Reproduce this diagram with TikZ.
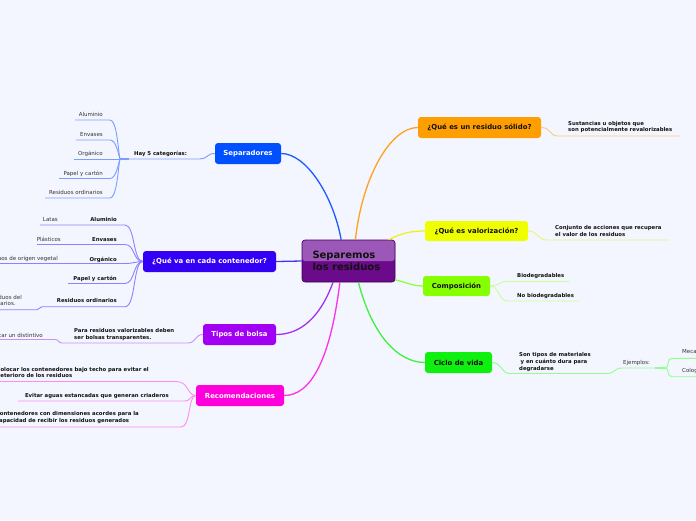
\documentclass[tikz,border=0pt]{standalone}
\usepackage{fontspec}
\setmainfont{DejaVu Sans}
\definecolor{bg}{HTML}{F3F6FE}
\definecolor{ink}{HTML}{111111}
\definecolor{ltxt}{HTML}{333333}
\definecolor{csep}{HTML}{0050FF}
\definecolor{cque}{HTML}{3300F5}
\definecolor{ctip}{HTML}{A200F2}
\definecolor{crec}{HTML}{FF00DC}
\definecolor{cres}{HTML}{FF9E00}
\definecolor{cval}{HTML}{F0FF00}
\definecolor{ccom}{HTML}{86FF00}
\definecolor{ccic}{HTML}{10F010}
\definecolor{ctop}{HTML}{9C58B8}
\definecolor{cbot}{HTML}{6C0A8C}
\definecolor{cbrd}{HTML}{3E0055}
\definecolor{lsep}{HTML}{7C9CFF}
\definecolor{lque}{HTML}{8F80FF}
\definecolor{ltip}{HTML}{C990F5}
\definecolor{lrec}{HTML}{FF8CF0}
\definecolor{lres}{HTML}{FFC880}
\definecolor{lval}{HTML}{EEF080}
\definecolor{lcom}{HTML}{C8FF98}
\definecolor{lcic}{HTML}{90FF90}
\definecolor{msep}{HTML}{1E5AFF}
\definecolor{mque}{HTML}{4A30F5}
\definecolor{mtip}{HTML}{A530F0}
\definecolor{mrec}{HTML}{FF30E5}
\definecolor{mres}{HTML}{FFA020}
\definecolor{mval}{HTML}{F0F020}
\definecolor{mcom}{HTML}{90FF40}
\definecolor{mcic}{HTML}{40F040}
\begin{document}
\begin{tikzpicture}[x=1pt,y=-1pt,
  lbl/.style={font=\fontsize{5.5}{6.8}\selectfont, text=ltxt, inner sep=0pt},
  blbl/.style={font=\bfseries\fontsize{5.35}{6.8}\selectfont, text=ink, inner sep=0pt},
  topic/.style={rounded corners=3pt, minimum height=21pt, inner sep=0pt, font=\bfseries\fontsize{6.9}{8}\selectfont, text=white},
  central/.style={draw=cbrd, line width=0.6pt, rounded corners=3pt, fill=cbot,
    minimum height=42pt, text width=72pt, inner xsep=10.5pt, inner ysep=0pt, align=left,
    font=\bfseries\fontsize{10}{12}\selectfont, text=ink,
    path picture={\fill[ctop] (path picture bounding box.north west) rectangle (path picture bounding box.east);}},
  branch/.style={line width=0.9pt},
  mainline/.style={line width=1.3pt}
]
\useasboundingbox (0,0) rectangle (696,520);
\fill[bg] (0,0) rectangle (696,520);
\clip (0,0) rectangle (696,520);

% ---------- nodes ----------
\node[central] (c) at (348.5,261) {Separemos\\los residuos};

\node[topic, fill=csep, minimum width=66pt] (sep) at (248,153.5) {Separadores};
\node[topic, fill=cque, minimum width=133pt] (que) at (209.5,261.5) {¿Qué va en cada contenedor?};
\node[topic, fill=ctip, minimum width=73pt] (tip) at (239.5,334.5) {Tipos de bolsa};
\node[topic, fill=crec, minimum width=88pt] (rec) at (240,395.5) {Recomendaciones};
\node[topic, fill=cres, text=ink, minimum width=123pt] (res) at (479.5,127.5) {¿Qué es un residuo sólido?};
\node[topic, fill=cval, text=ink, minimum width=103pt, minimum height=20pt] (val) at (476.5,231) {¿Qué es valorización?};
\node[topic, fill=ccom, text=ink, minimum width=67pt, minimum height=20pt] (com) at (456.5,286) {Composición};
\node[topic, fill=ccic, text=ink, minimum width=67pt] (cic) at (458.5,362.5) {Ciclo de vida};

% Separadores labels
\node[blbl, anchor=base west] (hay) at (134,155) {Hay 5 categorías:};
\node[lbl, anchor=base east] (s1) at (103,116) {Aluminio};
\node[lbl, anchor=base east] (s2) at (103,136) {Envases};
\node[lbl, anchor=base east] (s3) at (103,155) {Orgánico};
\node[lbl, anchor=base east] (s4) at (103,175) {Papel y cartón};
\node[lbl, anchor=base east] (s5) at (103,194.5) {Residuos ordinarios};
\coordinate (hayL) at (120,159); \coordinate (hayR) at (200,159);
\coordinate (s1L) at (75,120);  \coordinate (s1R) at (110,120);
\coordinate (s2L) at (76,140);  \coordinate (s2R) at (110,140);
\coordinate (s3L) at (74,159);
\coordinate (s4L) at (59,178.5); \coordinate (s4R) at (110,178.5);
\coordinate (s5L) at (45,198);  \coordinate (s5R) at (110,198);

% Que va labels
\node[blbl, anchor=base east] (q1) at (117,221.5) {Aluminio};
\node[blbl, anchor=base east] (q2) at (117,241) {Envases};
\node[blbl, anchor=base east] (q3) at (117,261) {Orgánico};
\node[blbl, anchor=base east] (q4) at (117,280) {Papel y cartón};
\node[blbl, anchor=base east] (q5) at (117,302.5) {Residuos ordinarios};
\node[lbl, anchor=base east] (q1a) at (58,221) {Latas};
\node[lbl, anchor=base east] (q2a) at (61,241) {Plásticos};
\node[lbl, anchor=base east] (q3a) at (58,260) {Residuos de origen vegetal};
\node[lbl, align=left, anchor=east] (q5a) at (22,300.5) {Residuos del\\sanitarios.};
\coordinate (q1L) at (40,225);  \coordinate (q1R) at (125,225);
\coordinate (q2L) at (37,244.5); \coordinate (q2R) at (125,244.5);
\coordinate (q3L) at (0,263.5); \coordinate (q3R) at (125,263.5);
\coordinate (q4L) at (68,283.5); \coordinate (q4R) at (125,283.5);
\coordinate (q5L) at (42,306.7); \coordinate (q5R) at (125,306.7);
\coordinate (q5aL) at (0,309.7); \coordinate (q5aR) at (37,309.7);

% Tipos de bolsa labels
\node[blbl, align=left, anchor=west] (t1) at (74,334.5) {Para residuos valorizables deben\\ser bolsas transparentes.};
\node[lbl, anchor=base east] (t1a) at (43,337) {Colocar un distintivo};
\coordinate (t1L) at (62,343); \coordinate (t1R) at (188,343);
\coordinate (t1aL) at (0,339.5); \coordinate (t1aR) at (55,339.5);

% Recomendaciones labels
\node[blbl, align=left, anchor=east] (r1) at (149,372.5) {Colocar los contenedores bajo techo para evitar el\\deterioro de los residuos};
\node[blbl, anchor=base east] (r2) at (169,397) {Evitar aguas estancadas que generan criaderos};
\node[blbl, align=left, anchor=east] (r3) at (139,417.5) {Contenedores con dimensiones acordes para la\\capacidad de recibir los residuos generados};
\coordinate (r1L) at (0,381.5); \coordinate (r1R) at (176,381.5);
\coordinate (r2L) at (18,401);  \coordinate (r2R) at (184,401);
\coordinate (r3L) at (0,427);   \coordinate (r3R) at (181,427);

% right side labels
\node[blbl, align=left, anchor=west] (o1) at (568,127) {Sustancias u objetos que\\son potencialmente revalorizables};
\coordinate (o1L) at (558,136); \coordinate (o1R) at (679,136);
\node[blbl, align=left, anchor=west] (y1) at (555,231) {Conjunto de acciones que recupera\\el valor de los residuos};
\coordinate (y1L) at (547,240); \coordinate (y1R) at (669,240);
\node[blbl, anchor=base west] (g1) at (517,277.7) {Biodegradables};
\node[blbl, anchor=base west] (g2) at (517,297) {No biodegradables};
\coordinate (g1L) at (507,281.5); \coordinate (g1R) at (569,281.5);
\coordinate (g2L) at (507,301);   \coordinate (g2R) at (579,301);
\node[blbl, align=left, anchor=west] (k1) at (519,362) {Son tipos de materiales\\\hspace{1.5pt}y en cuánto dura para\\degradarse};
\coordinate (k1L) at (510,373.5); \coordinate (k1R) at (607,373.5);
\node[lbl, anchor=base west] (e1) at (623,364) {Ejemplos:};
\coordinate (e1L) at (622,368); \coordinate (e1R) at (665,368);
\node[lbl, anchor=base west] (m1) at (682,353.5) {Mecanismos};
\node[lbl, anchor=base west] (m2) at (682,372.7) {Cologicos};
\coordinate (m1L) at (672,358.3); \coordinate (m1R) at (700,358.3);
\coordinate (m2L) at (672,376.7); \coordinate (m2R) at (700,376.7);

% ---------- main connectors ----------
\draw[mainline, msep] (c.109.7) .. controls (333,195) and (306,153.5) .. (sep.east);
\draw[mainline, mres] (c.72.8) .. controls (362,178) and (390,127.5) .. (res.west);
\draw[mainline, mval] (c.28.6) .. controls (402,233) and (411,231) .. (val.west);
\draw[mainline, mcom] (c.-22.2) .. controls (406,282) and (412,286) .. (com.west);
\draw[mainline, mcic] (c.-65.7) .. controls (372,335) and (398,362.5) .. (cic.west);
\draw[mainline, mrec] (c.-112) .. controls (330,362) and (310,395.5) .. (rec.east);
\draw[mainline, mtip] (c.-126.4) .. controls (320,318) and (300,334.5) .. (tip.east);
\draw[mainline, mque] (c.west) -- (que.east);

% ---------- Separadores branches ----------
\draw[branch, lsep] (sep.west) .. controls (207,153.5) and (207,159) .. (hayR) -- (hayL);
\draw[branch, lsep, line width=1.8pt] (hayL) -- (129,159);
\draw[branch, lsep] (s1L) -- (s1R) .. controls (117,120) and (118,150) .. (hayL);
\draw[branch, lsep] (s2L) -- (s2R) .. controls (116,140) and (118,153) .. (hayL);
\draw[branch, lsep] (s3L) -- (hayL);
\draw[branch, lsep] (s4L) -- (s4R) .. controls (116,178.5) and (118,165) .. (hayL);
\draw[branch, lsep] (s5L) -- (s5R) .. controls (117,198) and (118,168) .. (hayL);

% ---------- Que va branches ----------
\draw[branch, lque] (q1L) -- (q1R) .. controls (135,225) and (133,261.5) .. (que.west);
\draw[branch, lque] (q2L) -- (q2R) .. controls (135,244.5) and (133,261.5) .. (que.west);
\draw[branch, lque] (q3L) -- (q3R) .. controls (133,263.5) and (136,261.5) .. (que.west);
\draw[branch, lque] (q4L) -- (q4R) .. controls (135,283.5) and (133,261.5) .. (que.west);
\draw[branch, lque] (q5aL) -- (q5aR) .. controls (40,309.7) and (39,306.7) .. (q5L) -- (q5R) .. controls (136,306.7) and (133,261.5) .. (que.west);

% ---------- Tipos de bolsa branches ----------
\draw[branch, ltip] (tip.west) .. controls (195,334.5) and (196,343) .. (t1R) -- (t1L) .. controls (58,343) and (59,339.5) .. (t1aR) -- (t1aL);

% ---------- Recomendaciones branches ----------
\draw[branch, lrec] (r1L) -- (r1R) .. controls (189,381.5) and (187,395.5) .. (rec.west);
\draw[branch, lrec] (r2L) -- (r2R) .. controls (191,401) and (190,395.5) .. (rec.west);
\draw[branch, lrec] (r3L) -- (r3R) .. controls (191,427) and (188,395.5) .. (rec.west);

% ---------- right branches ----------
\draw[branch, lres] (res.east) .. controls (551,127.5) and (549,136) .. (o1L) -- (o1R);
\draw[branch, lval] (val.east) .. controls (538,231) and (537,240) .. (y1L) -- (y1R);
\draw[branch, lcom] (com.east) .. controls (499,286) and (499,281.5) .. (g1L) -- (g1R);
\draw[branch, lcom] (com.east) .. controls (499,286) and (499,301) .. (g2L) -- (g2R);
\draw[branch, lcic] (cic.east) .. controls (502,362.5) and (501,373.5) .. (k1L) -- (k1R) .. controls (615,373.5) and (614,368) .. (e1L) -- (e1R);
\draw[branch, lcic, line width=1.8pt] (655,368) -- (e1R);
\draw[branch, lcic] (e1R) .. controls (670,368) and (666,358.3) .. (m1L) -- (m1R);
\draw[branch, lcic] (e1R) .. controls (670,368) and (666,376.7) .. (m2L) -- (m2R);
\end{tikzpicture}
\end{document}
